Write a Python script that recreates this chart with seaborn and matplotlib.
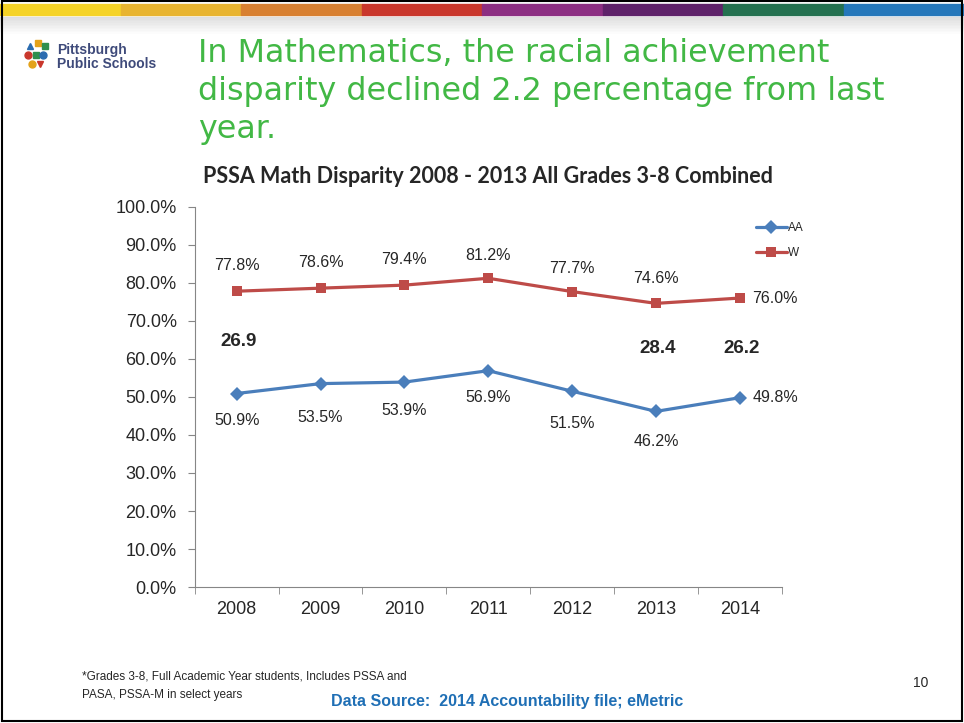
import pandas as pd
import seaborn as sns
import matplotlib.pyplot as plt
from matplotlib.patches import Rectangle

# valores
years = ['2008', '2009', '2010', '2011', '2012', '2013', '2014']
aa = [50.9, 53.5, 53.9, 56.9, 51.5, 46.2, 49.8]
w = [77.8, 78.6, 79.4, 81.2, 77.7, 74.6, 76.0]
gap_years = ['2008', '2013', '2014']
gap_values = ['26.9', '28.4', '26.2']
y_ticks = [0, 10, 20, 30, 40, 50, 60, 70, 80, 90, 100]
strip_colors = ['#F5D327', '#E8B430', '#D88031', '#C9372C',
                '#8C2E82', '#5E2169', '#24704F', '#2577BA']

data = pd.DataFrame({'Year': years * 2,
                     'Pct': aa + w,
                     'Group': ['AA'] * len(years) + ['W'] * len(years)})

sns.set_style('white')
plt.rcParams['font.family'] = ['Liberation Sans', 'DejaVu Sans']

fig = plt.figure(figsize=(9.64, 7.23), dpi=100)

# franja de colores superior
for i, c in enumerate(strip_colors):
    fig.patches.append(Rectangle((i / 8, 0.979), 1 / 8, 0.016, color=c,
                                 transform=fig.transFigure, zorder=5))
for i in range(12):
    fig.patches.append(Rectangle((0, 0.977 - (i + 1) * 0.0022), 1, 0.0023,
                                 color=str(min(1.0, 0.87 + i * 0.012)),
                                 transform=fig.transFigure, zorder=1))
# marco
fig.patches.append(Rectangle((0.002, 0.003), 0.996, 0.995, fill=False,
                             edgecolor='black', lw=1.5,
                             transform=fig.transFigure, zorder=6))

# logo
logo = [(0.031, 0.937, '^', '#2B6CB0'), (0.039, 0.940, 's', '#E3A21A'),
        (0.047, 0.937, 's', '#2F8F4E'), (0.029, 0.924, 'o', '#C9372C'),
        (0.037, 0.924, 's', '#2F8F4E'), (0.045, 0.924, 'o', '#2B6CB0'),
        (0.033, 0.912, 'o', '#E3A21A'), (0.041, 0.911, 'v', '#C9372C')]
for x, y, m, c in logo:
    fig.lines.append(plt.Line2D([x], [y], marker=m, color=c, markersize=5,
                                transform=fig.transFigure))
fig.text(0.059, 0.921, 'Pittsburgh\nPublic Schools', fontsize=10,
         fontweight='bold', color='#3E4A7A', va='center', linespacing=0.95)

fig.text(0.205, 0.948, 'In Mathematics, the racial achievement\n'
         'disparity declined 2.2 percentage from last\nyear.',
         fontsize=22.9, color='#42B845', va='top', linespacing=1.29,
         family=['DejaVu Sans'])

ax = fig.add_axes([0.202, 0.188, 0.609, 0.526])
sns.lineplot(data=data, x='Year', y='Pct', hue='Group', style='Group',
             markers={'AA': 'D', 'W': 's'}, dashes=False,
             palette={'AA': '#4A7EBB', 'W': '#BE4B48'}, linewidth=2.3,
             markersize=7, markeredgewidth=0, ax=ax)

ax.set_xlim(-0.5, 6.5)
ax.set_ylim(0, 100)
ax.set_yticks(y_ticks)
ax.set_yticklabels([f'{v:.1f}%' for v in y_ticks], fontsize=13)
ax.set_xticks(range(len(years)))
ax.set_xticklabels(years, fontsize=13)
ax.set_xticks([i - 0.5 for i in range(len(years) + 1)], minor=True)
ax.tick_params(axis='x', which='major', length=0, pad=10)
ax.tick_params(axis='x', which='minor', length=5, color='#868686',
               direction='out', bottom=True)
ax.tick_params(axis='y', length=5, color='#868686', direction='out',
               left=True, pad=8)
ax.set_xlabel('')
ax.set_ylabel('')
for s in ['top', 'right']:
    ax.spines[s].set_visible(False)
for s in ['left', 'bottom']:
    ax.spines[s].set_color('#868686')

# etiquetas de datos
w_off = [6.8, 6.8, 6.8, 6.0, 6.0, 6.6]
aa_off = [7.1, 8.9, 7.4, 7.1, 8.4, 7.9]
for i, v in enumerate(w):
    if i == 6:
        ax.text(i + 0.15, v, f'{v:.1f}%', fontsize=11.5, va='center')
    else:
        ax.text(i, v + w_off[i], f'{v:.1f}%', fontsize=11.5, ha='center', va='center')
for i, v in enumerate(aa):
    if i == 6:
        ax.text(i + 0.15, v, f'{v:.1f}%', fontsize=11.5, va='center')
    else:
        ax.text(i, v - aa_off[i], f'{v:.1f}%', fontsize=11.5, ha='center', va='center')
gap_y = {'2008': 64.5, '2013': 62.7, '2014': 62.7}
for yr, g in zip(gap_years, gap_values):
    ax.text(years.index(yr) + 0.02, gap_y[yr], g, fontsize=13.5,
            fontweight='bold', ha='center', va='center')

ax.legend(loc='upper right', bbox_to_anchor=(1.055, 0.988), frameon=False,
          fontsize=8.5, handlelength=2.6, labelspacing=1.1, handletextpad=0.1)

ax.set_title('PSSA Math Disparity 2008 - 2013 All Grades 3-8 Combined',
             fontsize=15.5, fontweight='bold', pad=17, family=['Lato', 'DejaVu Sans'])

fig.text(0.085, 0.064, '*Grades 3-8, Full Academic Year students, Includes PSSA and',
         fontsize=8.5, va='center')
fig.text(0.085, 0.039, 'PASA, PSSA-M in select years', fontsize=8.5, va='center')
fig.text(0.526, 0.030, 'Data Source:  2014 Accountability file; eMetric',
         fontsize=11.5, fontweight='bold', color='#1F6FB5', ha='center', va='center')
fig.text(0.963, 0.055, '10', fontsize=10, va='center', ha='right')

fig.savefig('out.png', dpi=100)
